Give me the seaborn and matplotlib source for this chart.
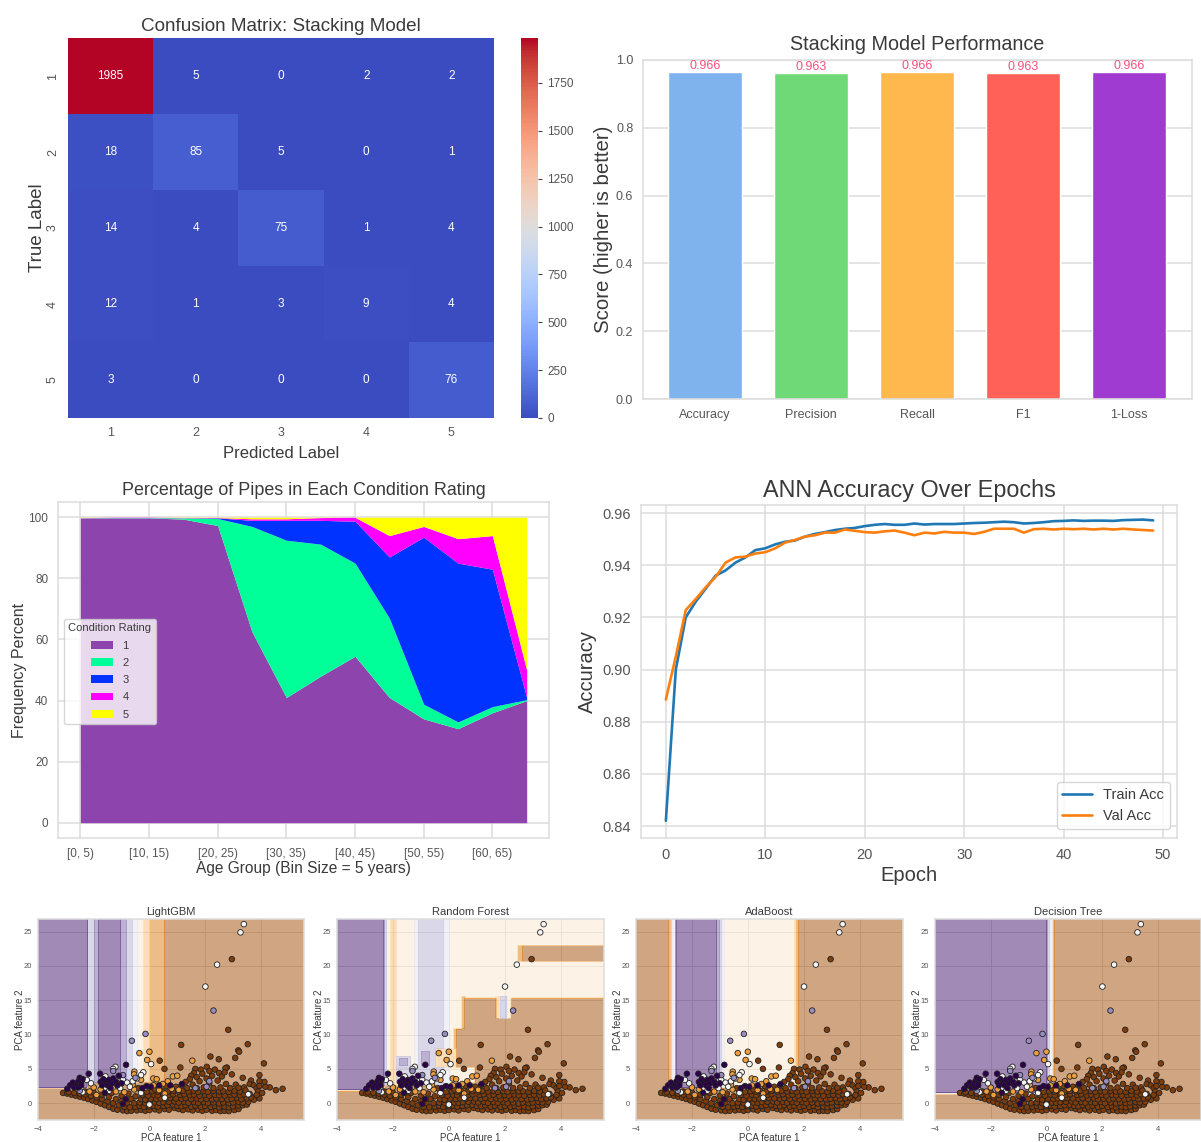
#!/usr/bin/python

import numpy as np
import pandas as pd
import matplotlib
matplotlib.use('Agg')
import matplotlib.pyplot as plt
import seaborn as sns

W, H = 1201, 1142

# confusion matrix
class_labels = [1, 2, 3, 4, 5]
conf_row1 = [1985, 5, 0, 2, 2]
conf_row2 = [18, 85, 5, 0, 1]
conf_row3 = [14, 4, 75, 1, 4]
conf_row4 = [12, 1, 3, 9, 4]
conf_row5 = [3, 0, 0, 0, 76]

# performance bars
metric_names = ['Accuracy', 'Precision', 'Recall', 'F1', '1-Loss']
metric_values = [0.966, 0.963, 0.966, 0.963, 0.966]
metric_colors = ['#7FB3EE', '#6FD977', '#FFB84D', '#FF6159', '#A03BD2']

# stacked area, percent per age bin
age_bins = ['[0, 5)', '[5, 10)', '[10, 15)', '[15, 20)', '[20, 25)', '[25, 30)', '[30, 35)',
            '[35, 40)', '[40, 45)', '[45, 50)', '[50, 55)', '[55, 60)', '[60, 65)', '[65, 70)']
rating_1 = [99.7, 99.8, 99.8, 99.4, 97.3, 62.5, 41.0, 48.0, 54.5, 41.0, 34.0, 30.8, 36.0, 40.0]
rating_2 = [0.1, 0.1, 0.1, 0.4, 2.3, 34.5, 51.5, 43.2, 30.5, 26.0, 4.8, 2.2, 2.0, 0.3]
rating_3 = [0.0, 0.0, 0.0, 0.0, 0.2, 2.0, 6.5, 7.8, 13.7, 20.0, 54.7, 52.0, 45.0, 0.7]
rating_4 = [0.1, 0.1, 0.1, 0.1, 0.1, 0.5, 0.5, 0.9, 1.3, 7.0, 3.5, 8.0, 11.0, 9.0]
rating_5 = [0.1, 0.0, 0.0, 0.1, 0.1, 0.5, 0.5, 0.1, 0.0, 6.0, 3.0, 7.0, 6.0, 50.0]
rating_colors = ['#8E44AD', '#00FF99', '#0033FF', '#FF00FF', '#FFFF00']

# ANN curves
train_acc = [0.842, 0.900, 0.920, 0.926, 0.931, 0.936, 0.938, 0.941, 0.943, 0.9458,
             0.9465, 0.948, 0.949, 0.9495, 0.951, 0.952, 0.9527, 0.9535, 0.954, 0.9543,
             0.955, 0.9555, 0.9558, 0.9555, 0.9555, 0.956, 0.9556, 0.9558, 0.9558, 0.9558,
             0.956, 0.9562, 0.9563, 0.9565, 0.9567, 0.9565, 0.956, 0.9562, 0.9565, 0.9569,
             0.957, 0.9572, 0.957, 0.9571, 0.9571, 0.957, 0.9573, 0.9574, 0.9575, 0.9572]
val_acc = [0.8885, 0.905, 0.9228, 0.927, 0.9315, 0.9355, 0.941, 0.943, 0.9433, 0.9445,
           0.945, 0.9465, 0.9487, 0.9497, 0.951, 0.9515, 0.9525, 0.9525, 0.9537, 0.9532,
           0.9527, 0.9525, 0.953, 0.9533, 0.9525, 0.9515, 0.9525, 0.9522, 0.9528, 0.9525,
           0.9525, 0.952, 0.9528, 0.954, 0.954, 0.954, 0.9525, 0.9538, 0.954, 0.9537,
           0.954, 0.9538, 0.954, 0.9537, 0.954, 0.9537, 0.954, 0.9537, 0.9535, 0.9533]

# PCA points, same in all four decision panels
# class 0 = brown, 1 = orange, 2 = white, 3 = light purple, 4 = dark purple
brown_pts = [
    (2.96, 21.0), (2.83, 10.7), (1.14, 8.5), (3.53, 8.6), (3.19, 7.7), (3.22, 7.5), (3.08, 6.6), (4.11, 5.8),
    (2.19, 6.8), (2.49, 6.4), (0.37, 6.2), (0.54, 5.0), (1.11, 5.2), (2.06, 5.3), (2.78, 5.2), (2.73, 5.1),
    (3.95, 4.1), (3.35, 3.7), (2.96, 4.2), (4.54, 1.9), (4.78, 2.1), (4.32, 2.3), (4.16, 2.4), (4.13, 3.1),
    (3.95, 3.2), (1.65, 5.0), (1.85, 4.9), (1.6, 4.4), (1.5, 4.0), (1.45, 3.5), (1.3, 3.1), (1.7, 3.8),
    (1.9, 4.3), (2.15, 4.7), (2.35, 4.9), (2.5, 4.4), (2.25, 4.0), (2.05, 3.6), (1.8, 3.2), (2.6, 3.9),
    (2.7, 4.5), (2.45, 3.3), (2.15, 2.9), (1.55, 2.7), (1.15, 2.6), (0.95, 2.4), (2.75, 2.8), (3.1, 2.7),
    (3.65, 3.3), (3.6, 2.8), (3.75, 2.6), (3.85, 2.2), (3.95, 2.5), (3.9, 1.7), (4.05, 1.5), (3.8, 0.9),
    (3.95, 0.7), (3.75, 0.5), (3.85, 1.2), (3.4, 2.3), (0.6, 2.5), (0.35, 2.3), (0.1, 2.2),
    (-3.1, 1.5), (-2.95, 1.4), (-2.8, 1.25), (-2.65, 1.1), (-2.5, 0.95), (-2.35, 0.8), (-2.2, 0.6), (-2.05, 0.4),
    (-1.9, 0.2), (-1.75, -0.05), (-1.6, -0.3), (-1.45, -0.55), (-1.3, -0.8), (-1.15, -0.95), (-0.95, -1.05),
    (-0.8, -1.15), (-2.9, 1.6), (-2.7, 1.5), (-2.5, 1.4), (-2.3, 1.25), (-2.1, 1.05), (-1.9, 0.85), (-1.7, 0.6),
    (-1.5, 0.3), (-1.3, 0.0), (-1.1, -0.3), (-0.9, -0.55), (-2.3, 1.7), (-2.0, 1.55), (-1.7, 1.25), (-1.45, 0.9),
    (-1.2, 0.6), (-1.0, 0.3), (-0.8, 0.0), (-0.65, 0.6), (-1.35, 1.5), (-1.0, 1.1), (-0.75, 1.4), (-0.5, 1.0),
    (-0.65, -1.1), (-0.45, -1.05), (-0.3, -0.95), (-0.15, -1.1), (0.0, -1.0), (0.2, -0.9), (0.35, -1.05),
    (0.55, -0.85), (0.7, -0.95), (0.9, -0.7), (1.05, -0.85), (1.2, -1.0), (1.4, -0.9), (1.55, -1.05), (1.75, -0.95),
    (1.9, -1.1), (2.05, -0.95), (2.25, -1.1), (2.4, -1.0), (2.55, -1.15), (2.7, -1.1), (2.85, -1.15), (3.05, -1.0),
    (3.2, -0.85), (-0.7, -0.6), (-0.5, -0.5), (-0.35, -0.4), (-0.2, -0.55), (0.0, -0.45), (0.15, -0.35), (0.3, -0.5),
    (0.5, -0.4), (0.65, -0.3), (0.85, -0.25), (1.0, -0.4), (1.15, -0.45), (1.3, -0.3), (1.5, -0.5), (1.65, -0.35),
    (1.85, -0.55), (2.0, -0.4), (2.2, -0.55), (2.35, -0.4), (2.5, -0.6), (2.7, -0.5), (2.85, -0.6), (3.0, -0.45),
    (3.2, -0.35), (3.35, -0.3), (3.5, -0.2), (-0.55, 0.0), (-0.35, 0.1), (-0.15, 0.0), (0.0, 0.15), (0.2, 0.1),
    (0.35, 0.05), (0.5, 0.15), (0.7, 0.2), (0.9, 0.25), (1.05, 0.1), (1.25, 0.2), (1.4, 0.05), (1.6, 0.15),
    (1.75, 0.05), (1.95, 0.15), (2.1, 0.0), (2.3, 0.1), (2.5, -0.05), (2.65, 0.1), (2.85, 0.0), (3.0, 0.1),
    (3.2, 0.2), (3.35, 0.1), (3.55, 0.2), (-0.3, 0.6), (-0.15, 0.5), (0.05, 0.65), (0.25, 0.6), (0.4, 0.7),
    (0.6, 0.65), (0.75, 0.75), (0.95, 0.7), (1.15, 0.65), (1.3, 0.75), (1.5, 0.6), (1.7, 0.7), (1.85, 0.55),
    (2.05, 0.65), (2.25, 0.55), (2.4, 0.7), (2.6, 0.6), (2.8, 0.55), (2.95, 0.65), (3.15, 0.75), (3.3, 0.6),
    (3.5, 0.7), (3.65, 0.85), (-0.25, 1.2), (-0.05, 1.1), (0.15, 1.25), (0.3, 1.15), (0.5, 1.3), (0.7, 1.2),
    (0.85, 1.3), (1.1, 1.2), (1.25, 1.3), (1.45, 1.15), (1.6, 1.25), (1.8, 1.1), (2.0, 1.2), (2.15, 1.1),
    (2.35, 1.25), (2.5, 1.15), (2.7, 1.1), (2.9, 1.2), (3.05, 1.25), (3.25, 1.15), (3.4, 1.3), (3.6, 1.35),
    (-0.3, 1.7), (-0.1, 1.65), (0.1, 1.75), (0.3, 1.7), (0.45, 1.8), (0.65, 1.65), (0.85, 1.8), (1.05, 1.7),
    (1.2, 1.8), (1.4, 1.7), (1.6, 1.8), (1.75, 1.65), (1.95, 1.75), (2.1, 1.65), (2.3, 1.8), (2.5, 1.7),
    (2.65, 1.75), (2.85, 1.65), (3.05, 1.8), (3.25, 1.7), (3.45, 1.85), (-0.4, 2.2), (0.2, 2.0), (1.35, 2.2),
    (1.7, 2.2), (1.95, 2.3), (2.3, 2.2), (2.55, 2.3), (2.9, 2.2), (3.2, 2.25),
]
orange_pts = [
    (-0.36, 7.3), (0.0, 7.5), (-0.08, 6.3), (1.54, 6.2), (-0.54, 4.6), (0.14, 3.6), (0.26, 3.5), (0.66, 3.2),
    (0.84, 3.9), (1.0, 4.0), (0.48, 2.8), (-0.3, 3.4), (-0.55, 4.2), (-2.0, 2.3), (-1.9, 1.2), (-2.15, 1.7),
    (-1.75, 2.0), (-1.2, 1.7), (-0.9, 1.6), (-0.55, 2.0), (0.55, 1.4), (0.8, 2.1), (1.05, 1.95), (-0.6, 2.7),
    (0.15, 2.6), (0.35, 1.9),
]
white_pts = [
    (3.39, 26.1), (3.27, 24.9), (2.43, 20.2), (2.01, 17.0), (0.06, 5.7), (-1.22, 5.3), (-0.22, 4.5), (-0.3, 4.1),
    (-1.58, 3.9), (-1.3, 5.0), (-2.45, 2.0), (-2.4, 1.6), (-1.55, 2.2), (-1.45, 1.8), (-0.95, 3.4), (-0.8, 3.0),
    (-0.6, 3.2), (-0.45, 3.6), (-0.7, 2.4), (-1.05, 2.2), (-2.1, 2.9), (-2.25, 3.4), (-0.15, 2.3), (0.0, -0.2),
    (0.55, 0.8), (3.55, 1.3), (-0.3, 1.5),
]
lightpurple_pts = [
    (2.3, 13.5), (-0.14, 10.1), (-0.63, 9.1), (-1.3, 4.7), (-0.95, 4.1), (-2.5, 1.8), (1.65, 2.2), (2.15, 3.2),
    (2.05, 2.4), (-0.5, 3.7),
]
darkpurple_pts = [
    (-0.84, 5.6), (-2.18, 4.3), (-1.77, 4.3), (1.17, 2.8), (-2.95, 2.1), (-2.85, 2.6), (-2.75, 3.0), (-2.7, 2.3),
    (-2.6, 2.7), (-2.55, 3.2), (-2.5, 3.7), (-2.45, 3.0), (-2.4, 3.5), (-2.55, 2.3), (-2.45, 2.6), (-1.75, 3.1),
    (-1.7, 2.6), (-1.65, 3.5), (-1.55, 3.0), (-1.5, 2.6), (-1.45, 3.4), (-1.4, 2.2), (-1.35, 2.9), (-1.3, 3.6),
    (-1.2, 3.1), (-1.15, 2.6), (-1.1, 4.0), (-1.0, 2.9), (-1.6, 1.5), (-0.95, -0.1), (-0.85, 0.6), (-0.1, 2.5),
    (0.05, 2.4), (0.35, 2.6), (-0.25, 2.2), (0.75, 2.6),
]

# decision surfaces: (x0, x1, y0, y1, shade), later blocks paint over earlier ones
surface_levels = [0, 0.5, 1, 1.5, 2, 2.5, 3, 3.5, 4]
lgbm_blocks = [
    (-4.1, -2.25, 2.1, 27.5, 1.75), (-4.1, -2.25, 2.3, 27.5, 3.75), (-2.25, -2.0, 3.0, 27.5, 2.75),
    (-2.0, -1.85, 3.0, 27.5, 3.25), (-1.85, -1.05, 3.0, 27.5, 3.75), (-1.05, -0.82, 3.0, 27.5, 3.25),
    (-0.82, -0.65, 3.0, 27.5, 2.75), (-0.65, -0.42, 3.0, 27.5, 2.25), (-0.42, -0.25, 3.0, 27.5, 1.75),
    (-0.25, 0.0, 3.0, 27.5, 1.25), (0.0, 0.52, 3.0, 27.5, 0.75),
]
rf_blocks = [
    (-4.1, -2.35, 1.75, 27.5, 1.75), (-4.1, -2.35, 1.95, 27.5, 3.75), (-2.35, -2.25, 2.5, 27.5, 2.75),
    (-2.25, -2.1, 2.5, 27.5, 1.75), (-2.1, -1.9, 2.5, 27.5, 1.25), (-1.9, -1.23, 2.5, 27.5, 1.75),
    (-1.23, -1.07, 2.5, 27.5, 2.25), (-1.07, -0.2, 2.5, 27.5, 2.75), (-0.2, 0.0, 2.5, 27.5, 2.25),
    (0.0, 5.8, 15.3, 27.5, 1.75), (0.0, 0.45, 10.8, 15.5, 1.75), (0.45, 0.58, 10.8, 15.5, 0.75),
    (0.0, 0.15, 8.0, 10.8, 1.75), (0.15, 0.25, 8.0, 10.8, 0.75), (-0.5, 0.25, 5.2, 8.0, 1.25),
    (0.0, 0.9, 3.0, 5.2, 1.75), (2.45, 2.6, 20.6, 23.0, 0.75), (2.6, 5.8, 20.6, 23.0, 0.25),
    (1.65, 1.8, 12.3, 15.5, 1.25), (1.8, 2.05, 12.3, 15.5, 2.75), (2.05, 2.2, 12.3, 15.5, 1.75),
    (-1.9, -1.4, 5.2, 6.8, 2.75), (-1.8, -1.5, 5.5, 6.5, 3.25), (-1.0, -0.7, 5.5, 7.5, 3.25),
    (-1.9, -1.0, 3.0, 5.0, 2.75),
]
ada_blocks = [
    (-2.85, -2.75, 2.2, 27.5, 0.75), (-2.75, -2.6, 2.2, 27.5, 2.25), (-2.6, -1.15, 2.2, 27.5, 3.75),
    (-1.15, -1.05, 2.2, 27.5, 3.25), (-1.05, -0.95, 2.2, 27.5, 2.75), (-0.95, -0.85, 2.2, 27.5, 2.25),
    (-0.85, 1.65, 2.2, 27.5, 1.75), (1.65, 1.72, 2.2, 27.5, 1.25), (1.72, 1.8, 2.2, 27.5, 0.75),
]
tree_blocks = [
    (-4.1, 0.02, 1.3, 27.5, 2.25), (-4.1, 0.02, 1.5, 27.5, 3.75), (0.02, 0.1, 2.0, 27.5, 2.75),
    (0.1, 0.2, 2.0, 27.5, 2.25), (0.2, 0.27, 2.0, 27.5, 0.75),
]
panel_titles = ['LightGBM', 'Random Forest', 'AdaBoost', 'Decision Tree']
panel_blocks = [lgbm_blocks, rf_blocks, ada_blocks, tree_blocks]
panel_rects = [(38, 919, 304, 1120), (337, 919, 604, 1120), (636, 919, 903, 1120), (935, 919, 1201, 1120)]


def rect(x0, y0, x1, y1):
    return [x0 / W, 1 - y1 / H, (x1 - x0) / W, (y1 - y0) / H]


sns.set_style('whitegrid', {'grid.color': '#dcdcdc', 'axes.edgecolor': '#dcdcdc'})
plt.rcParams['font.family'] = ['Liberation Sans', 'DejaVu Sans']
plt.rcParams['text.color'] = '#3a3a3a'
plt.rcParams['axes.labelcolor'] = '#3a3a3a'
plt.rcParams['xtick.color'] = '#555555'
plt.rcParams['ytick.color'] = '#555555'
plt.rcParams['grid.linewidth'] = 1.1
plt.rcParams['axes.linewidth'] = 1.1

fig = plt.figure(figsize=(W / 100, H / 100), dpi=100)

################################################################################
# confusion matrix
ax = fig.add_axes(rect(68, 38, 494, 418))
cax = fig.add_axes(rect(521, 38, 538, 418))
conf = np.array([conf_row1, conf_row2, conf_row3, conf_row4, conf_row5])
sns.heatmap(conf, annot=True, fmt='d', cmap='coolwarm', xticklabels=class_labels, yticklabels=class_labels,
            ax=ax, cbar_ax=cax, annot_kws={'fontsize': 8.5})
cax.tick_params(labelsize=8.5, length=3, color='#444444')
cax.yaxis.set_ticks(np.arange(0, 2000, 250))
ax.tick_params(axis='x', labelsize=9, length=3, color='#444444', rotation=0)
ax.tick_params(axis='y', labelsize=9, length=3, color='#444444', rotation=90)
ax.set_title('Confusion Matrix: Stacking Model', fontsize=13.6, pad=5)
ax.set_xlabel('Predicted Label', fontsize=12, labelpad=5)
ax.set_ylabel('True Label', fontsize=13.5, labelpad=1)

################################################################################
# performance bars
ax = fig.add_axes(rect(643, 60, 1192, 399))
metric_df = pd.DataFrame({'metric': metric_names, 'score': metric_values})
sns.barplot(data=metric_df, x='metric', y='score', hue='metric', palette=metric_colors, width=0.69,
            saturation=1, legend=False, ax=ax)
for i, v in enumerate(metric_values):
    ax.text(i, v - 0.002, str(v), ha='center', va='bottom', fontsize=9, color='#F5527F')
ax.set_xlim(-0.585, 4.594)
ax.set_ylim(0, 1.0)
ax.tick_params(labelsize=9)
ax.set_title('Stacking Model Performance', fontsize=14.2, pad=7)
ax.set_xlabel('')
ax.set_ylabel('Score (higher is better)', fontsize=14.7, labelpad=2)

################################################################################
# stacked area
ax = fig.add_axes(rect(58, 502, 549, 838))
xpos = list(range(len(age_bins)))
ax.stackplot(xpos, rating_1, rating_2, rating_3, rating_4, rating_5, colors=rating_colors,
             labels=['1', '2', '3', '4', '5'], linewidth=0)
ax.set_xticks(xpos[::2])
ax.set_xticklabels(age_bins[::2])
ax.set_xlim(-0.65, 13.65)
ax.set_ylim(-5, 105)
ax.tick_params(labelsize=8.5)
ax.set_title('Percentage of Pipes in Each Condition Rating', fontsize=12.9, pad=5)
ax.set_xlabel('Age Group (Bin Size = 5 years)', fontsize=11.2, labelpad=1)
ax.set_ylabel('Frequency Percent', fontsize=11.5, labelpad=1)
leg = ax.legend(title='Condition Rating', loc='upper left', bbox_to_anchor=(64 / W, 1 - 619 / H),
                bbox_transform=fig.transFigure, borderaxespad=0, fontsize=8, title_fontsize=8,
                labelspacing=0.65, frameon=True, framealpha=0.8)

################################################################################
# ANN accuracy
ax = fig.add_axes(rect(641, 505, 1177, 838))
epochs = list(range(len(train_acc)))
acc_df = pd.DataFrame({'epoch': epochs + epochs, 'acc': train_acc + val_acc,
                       'curve': ['Train Acc'] * len(train_acc) + ['Val Acc'] * len(val_acc)})
sns.lineplot(data=acc_df, x='epoch', y='acc', hue='curve', palette=['#1f77b4', '#ff7f0e'], linewidth=1.9, ax=ax)
ax.set_xlim(-2.5, 51.4)
ax.set_ylim(0.8354, 0.9631)
ax.set_yticks([0.84, 0.86, 0.88, 0.90, 0.92, 0.94, 0.96])
ax.tick_params(labelsize=10.5)
ax.set_title('ANN Accuracy Over Epochs', fontsize=16.8, pad=6)
ax.set_xlabel('Epoch', fontsize=14.5, labelpad=3)
ax.set_ylabel('Accuracy', fontsize=14.5, labelpad=4)
ax.legend(loc='lower right', bbox_to_anchor=(1170 / W, 1 - 829 / H), bbox_transform=fig.transFigure,
          borderaxespad=0, fontsize=10.5, frameon=True)

################################################################################
# decision surfaces
pts_list = [brown_pts, orange_pts, white_pts, lightpurple_pts, darkpurple_pts]
pts_df = pd.concat([pd.DataFrame(p, columns=['pc1', 'pc2']).assign(cls=i) for i, p in enumerate(pts_list)])
point_colors = {i: plt.get_cmap('PuOr')(i / 4) for i in range(5)}
gx = np.arange(-4.1, 5.85, 0.05)
gy = np.arange(-2.6, 27.5, 0.05)
xx, yy = np.meshgrid(gx, gy)

for title, blocks, r in zip(panel_titles, panel_blocks, panel_rects):
    ax = fig.add_axes(rect(*r))
    Z = np.full(xx.shape, 0.25)
    for x0, x1, y0, y1, shade in blocks:
        Z[(xx >= x0) & (xx < x1) & (yy >= y0) & (yy < y1)] = shade
    ax.contourf(xx, yy, Z, levels=surface_levels, cmap='PuOr', vmin=0, vmax=4, alpha=0.5)
    sns.scatterplot(data=pts_df, x='pc1', y='pc2', hue='cls', palette=point_colors, s=16, edgecolor='#222222',
                    linewidth=0.6, legend=False, ax=ax)
    ax.set_xlim(-4, 5.55)
    ax.set_ylim(-2.45, 26.85)
    ax.set_xticks([-4, -2, 0, 2, 4])
    ax.set_yticks([0, 5, 10, 15, 20, 25])
    ax.grid(linewidth=0.7)
    ax.tick_params(labelsize=5.5, pad=1)
    ax.set_title(title, fontsize=8, pad=3)
    ax.set_xlabel('PCA feature 1', fontsize=7, labelpad=0)
    ax.set_ylabel('PCA feature 2', fontsize=7, labelpad=-1)

fig.savefig('out.png', dpi=100)
